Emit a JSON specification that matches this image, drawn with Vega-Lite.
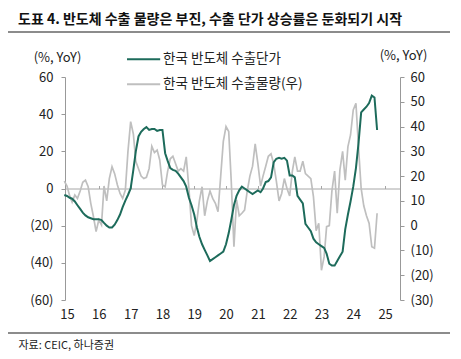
{
  "$schema": "https://vega.github.io/schema/vega-lite/v6.json",
  "width": 335,
  "height": 223,
  "autosize": {"type": "none"},
  "padding": {"left": 65, "top": 77, "right": 61, "bottom": 59},
  "background": "white",
  "config": {
    "font": "Noto Sans CJK KR",
    "view": {"stroke": null},
    "axis": {"labelFont": "Noto Sans CJK KR", "titleFont": "Noto Sans CJK KR", "labelColor": "#222", "titleColor": "#222", "grid": false}
  },
  "title": {
    "text": "도표 4. 반도체 수출 물량은 부진, 수출 단가 상승률은 둔화되기 시작",
    "anchor": "start",
    "frame": "group",
    "dx": -47,
    "dy": 2,
    "offset": 6,
    "fontSize": 14,
    "fontWeight": "bold",
    "color": "#111",
    "font": "Noto Sans CJK KR"
  },
  "data": {
    "format": {"parse": {"m": "date:'%Y-%m'"}},
    "values": [
      {"m": "2014-12", "price": -3.5, "volume": 18},
      {"m": "2015-01", "price": -4, "volume": 16},
      {"m": "2015-02", "price": -5, "volume": 12},
      {"m": "2015-03", "price": -5.5, "volume": 9.5},
      {"m": "2015-04", "price": -7, "volume": 12.4},
      {"m": "2015-05", "price": -9, "volume": 11},
      {"m": "2015-06", "price": -11, "volume": 14},
      {"m": "2015-07", "price": -13, "volume": 17.5},
      {"m": "2015-08", "price": -14.5, "volume": 18.4},
      {"m": "2015-09", "price": -15.5, "volume": 15.7},
      {"m": "2015-10", "price": -16, "volume": 9},
      {"m": "2015-11", "price": -16.5, "volume": 3.6},
      {"m": "2015-12", "price": -16.5, "volume": -2.4},
      {"m": "2016-01", "price": -16.5, "volume": 2.3},
      {"m": "2016-02", "price": -17, "volume": 0.3},
      {"m": "2016-03", "price": -18.5, "volume": 16},
      {"m": "2016-04", "price": -20, "volume": 10},
      {"m": "2016-05", "price": -21, "volume": 19},
      {"m": "2016-06", "price": -21, "volume": 23.8},
      {"m": "2016-07", "price": -19.5, "volume": 21},
      {"m": "2016-08", "price": -17, "volume": 16.5},
      {"m": "2016-09", "price": -14, "volume": 13},
      {"m": "2016-10", "price": -10, "volume": 11},
      {"m": "2016-11", "price": -6.5, "volume": 14.4},
      {"m": "2016-12", "price": -3.5, "volume": 30},
      {"m": "2017-01", "price": 0, "volume": 42},
      {"m": "2017-02", "price": 10, "volume": 37},
      {"m": "2017-03", "price": 20, "volume": 26},
      {"m": "2017-04", "price": 28, "volume": 23},
      {"m": "2017-05", "price": 30.5, "volume": 20},
      {"m": "2017-06", "price": 32, "volume": 19},
      {"m": "2017-07", "price": 33, "volume": 19.5},
      {"m": "2017-08", "price": 31.5, "volume": 23},
      {"m": "2017-09", "price": 32, "volume": 32},
      {"m": "2017-10", "price": 32, "volume": 29.5},
      {"m": "2017-11", "price": 31, "volume": 30.5},
      {"m": "2017-12", "price": 31.5, "volume": 26.5},
      {"m": "2018-01", "price": 31.5, "volume": 16.4},
      {"m": "2018-02", "price": 19, "volume": 15.7},
      {"m": "2018-03", "price": 15, "volume": 21.8},
      {"m": "2018-04", "price": 11, "volume": 27},
      {"m": "2018-05", "price": 10, "volume": 28},
      {"m": "2018-06", "price": 9.5, "volume": 25},
      {"m": "2018-07", "price": 8, "volume": 22},
      {"m": "2018-08", "price": 6, "volume": 23},
      {"m": "2018-09", "price": 4, "volume": 22},
      {"m": "2018-10", "price": 1, "volume": 27.8},
      {"m": "2018-11", "price": -5, "volume": 15},
      {"m": "2018-12", "price": -9, "volume": 0},
      {"m": "2019-01", "price": -14, "volume": -4},
      {"m": "2019-02", "price": -21, "volume": 2},
      {"m": "2019-03", "price": -26, "volume": 10},
      {"m": "2019-04", "price": -30, "volume": 15.7},
      {"m": "2019-05", "price": -33, "volume": 4},
      {"m": "2019-06", "price": -36, "volume": 10},
      {"m": "2019-07", "price": -39, "volume": 14},
      {"m": "2019-08", "price": -38, "volume": 11},
      {"m": "2019-09", "price": -37, "volume": 9},
      {"m": "2019-10", "price": -36, "volume": 5.6},
      {"m": "2019-11", "price": -35, "volume": 20},
      {"m": "2019-12", "price": -34, "volume": 34},
      {"m": "2020-01", "price": -30, "volume": 40},
      {"m": "2020-02", "price": -24, "volume": 38},
      {"m": "2020-03", "price": -17, "volume": 18},
      {"m": "2020-04", "price": -9, "volume": -8.5},
      {"m": "2020-05", "price": -4, "volume": 10.4},
      {"m": "2020-06", "price": -1, "volume": 4},
      {"m": "2020-07", "price": 1, "volume": 5},
      {"m": "2020-08", "price": 0, "volume": 6.3},
      {"m": "2020-09", "price": -1, "volume": 14},
      {"m": "2020-10", "price": -2, "volume": 20},
      {"m": "2020-11", "price": -3, "volume": 24},
      {"m": "2020-12", "price": -2, "volume": 33},
      {"m": "2021-01", "price": -1, "volume": 25},
      {"m": "2021-02", "price": -2, "volume": 16},
      {"m": "2021-03", "price": 0, "volume": 20},
      {"m": "2021-04", "price": 3.5, "volume": 24},
      {"m": "2021-05", "price": 4, "volume": 28},
      {"m": "2021-06", "price": 6, "volume": 29},
      {"m": "2021-07", "price": 14, "volume": 25},
      {"m": "2021-08", "price": 16, "volume": 18},
      {"m": "2021-09", "price": 16.5, "volume": 10},
      {"m": "2021-10", "price": 16, "volume": 13},
      {"m": "2021-11", "price": 16.5, "volume": 19},
      {"m": "2021-12", "price": 15, "volume": 15},
      {"m": "2022-01", "price": 7, "volume": 12},
      {"m": "2022-02", "price": 7, "volume": 22},
      {"m": "2022-03", "price": 6, "volume": 27.8},
      {"m": "2022-04", "price": -4, "volume": 22},
      {"m": "2022-05", "price": -6, "volume": 22},
      {"m": "2022-06", "price": -8, "volume": 26},
      {"m": "2022-07", "price": -19, "volume": 21},
      {"m": "2022-08", "price": -21, "volume": 20},
      {"m": "2022-09", "price": -23, "volume": 19},
      {"m": "2022-10", "price": -27, "volume": 11.7},
      {"m": "2022-11", "price": -29, "volume": -2},
      {"m": "2022-12", "price": -30, "volume": 1},
      {"m": "2023-01", "price": -31, "volume": -18},
      {"m": "2023-02", "price": -32, "volume": -12.5},
      {"m": "2023-03", "price": -35, "volume": -0.4},
      {"m": "2023-04", "price": -40.5, "volume": 0},
      {"m": "2023-05", "price": -41.5, "volume": 14},
      {"m": "2023-06", "price": -41.5, "volume": 22},
      {"m": "2023-07", "price": -39, "volume": 5},
      {"m": "2023-08", "price": -36.5, "volume": 22.5},
      {"m": "2023-09", "price": -34, "volume": 30},
      {"m": "2023-10", "price": -22, "volume": 18.4},
      {"m": "2023-11", "price": -14, "volume": 31.9},
      {"m": "2023-12", "price": -7, "volume": 36.6},
      {"m": "2024-01", "price": 1, "volume": 46.7},
      {"m": "2024-02", "price": 11, "volume": 49.4},
      {"m": "2024-03", "price": 24, "volume": 32},
      {"m": "2024-04", "price": 41, "volume": 15},
      {"m": "2024-05", "price": 42.5, "volume": 8},
      {"m": "2024-06", "price": 44, "volume": 4},
      {"m": "2024-07", "price": 46, "volume": 1},
      {"m": "2024-08", "price": 50, "volume": -8.5},
      {"m": "2024-09", "price": 49, "volume": -9.1},
      {"m": "2024-10", "price": 31.5, "volume": 5}
    ]
  },
  "layer": [
    {
      "data": {"values": [{}]},
      "mark": {"type": "rule", "color": "#8c8c8c", "strokeWidth": 2},
      "encoding": {"x": {"value": -57}, "x2": {"value": 385}, "y": {"value": -45}}
    },
    {
      "data": {"values": [{}]},
      "mark": {"type": "rule", "color": "#8c8c8c", "strokeWidth": 2},
      "encoding": {"x": {"value": -57}, "x2": {"value": 385}, "y": {"value": 256}}
    },
    {
      "mark": {"type": "line", "strokeWidth": 1.7},
      "encoding": {
        "x": {
          "field": "m",
          "type": "temporal",
          "scale": {"domain": [{"year": 2014, "month": 12, "date": 9}, {"year": 2025, "month": 6, "date": 21}]},
          "axis": {
            "orient": "bottom",
            "format": "%y",
            "domain": false,
            "ticks": false,
            "grid": false,
            "labelPadding": 8,
            "labelFontSize": 13,
            "labelFlush": false,
            "tickCount": {"interval": "year", "step": 1},
            "title": "자료: CEIC, 하나증권",
            "titleX": -47,
            "titleY": 45,
            "titleAlign": "left",
            "titleAnchor": null,
            "titleBaseline": "middle",
            "titleFontSize": 11,
            "titleFontWeight": "normal"
          }
        },
        "y": {
          "field": "volume",
          "type": "quantitative",
          "scale": {"domain": [-30, 60], "nice": false, "zero": false},
          "axis": {
            "orient": "right",
            "values": [-30, -20, -10, 0, 10, 20, 30, 40, 50, 60],
            "labelExpr": "datum.value < 0 ? '(' + (-datum.value) + ')' : '' + datum.value",
            "labelFontSize": 13,
            "labelPadding": 6,
            "tickSize": 4,
            "tickColor": "#999",
            "domainColor": "#999",
            "title": "(%, YoY)",
            "titleAngle": 0,
            "titleX": 3,
            "titleY": -22,
            "titleAlign": "center",
            "titleBaseline": "middle",
            "titleFontSize": 13,
            "titleFontWeight": "normal"
          }
        },
        "color": {
          "datum": "한국 반도체 수출물량(우)",
          "scale": {"domain": ["한국 반도체 수출단가", "한국 반도체 수출물량(우)"], "range": ["#1d6b5b", "#bfbfbf"]},
          "legend": {
            "orient": "none",
            "legendX": 60.6,
            "legendY": -35.7,
            "direction": "vertical",
            "symbolType": "stroke",
            "symbolSize": 1100,
            "symbolStrokeWidth": 2,
            "labelFontSize": 13.5,
            "labelOffset": 1.5,
            "labelColor": "#222",
            "rowPadding": -5,
            "padding": 0,
            "title": null
          }
        }
      }
    },
    {
      "mark": {"type": "line", "strokeWidth": 2},
      "encoding": {
        "x": {
          "field": "m",
          "type": "temporal",
          "axis": {
            "orient": "top",
            "offset": -111.5,
            "labels": false,
            "grid": false,
            "domain": true,
            "domainColor": "#a6a6a6",
            "ticks": true,
            "tickColor": "#a6a6a6",
            "tickSize": 3,
            "title": null,
            "tickCount": {"interval": "year", "step": 1}
          }
        },
        "y": {
          "field": "price",
          "type": "quantitative",
          "scale": {"domain": [-60, 60], "nice": false, "zero": false},
          "axis": {
            "orient": "left",
            "values": [-60, -40, -20, 0, 20, 40, 60],
            "labelExpr": "datum.value < 0 ? '(' + (-datum.value) + ')' : '' + datum.value",
            "labelFontSize": 13,
            "labelPadding": 8,
            "tickSize": 4,
            "tickColor": "#999",
            "domainColor": "#999",
            "title": "(%, YoY)",
            "titleAngle": 0,
            "titleX": -8,
            "titleY": -20,
            "titleAlign": "center",
            "titleBaseline": "middle",
            "titleFontSize": 13,
            "titleFontWeight": "normal"
          }
        },
        "color": {"datum": "한국 반도체 수출단가"}
      }
    }
  ],
  "resolve": {"scale": {"y": "independent"}, "axis": {"x": "independent"}}
}
